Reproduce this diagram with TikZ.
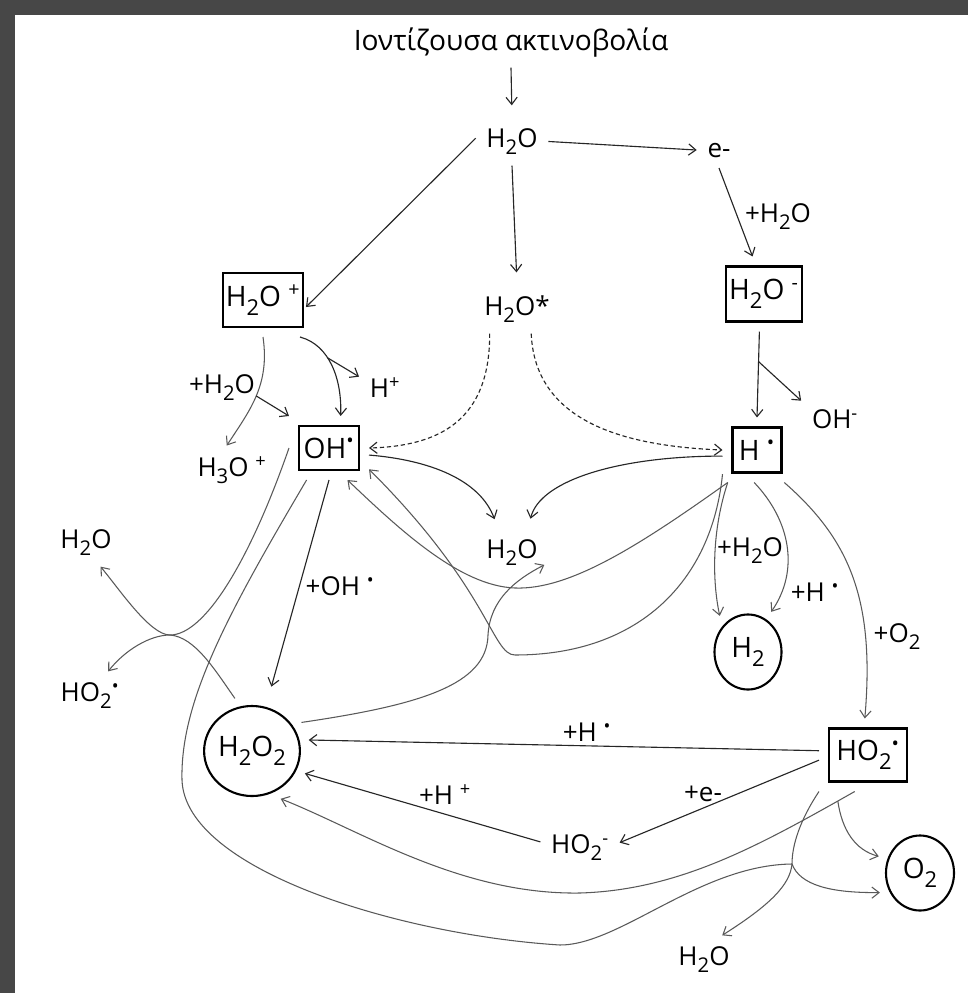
\documentclass[tikz,border=0pt]{standalone}
\usepackage{fontspec}
\setmainfont{Open Sans}
\usetikzlibrary{shapes.geometric,arrows.meta}

\newcommand{\rad}{\textsuperscript{\textbullet}}
\newcommand{\dn}[1]{\raisebox{-0.3em}{\scalebox{0.78}{#1}}}

\begin{document}
\begin{tikzpicture}[x=0.025cm,y=-0.025cm]
	\tikzstyle{every node}=[font=\fontsize{18.5}{20}\selectfont];
	\tikzstyle{spec}=[anchor=base, inner sep=2pt, outer sep=2mm];
	\tikzstyle{box}=[draw, line width=1.5pt, inner sep=2pt, outer sep=2.5mm, font=\fontsize{20}{22}\selectfont];
	\tikzstyle{ring}=[draw, ellipse, line width=1.5pt, inner sep=0pt, outer sep=2.5mm, font=\fontsize{20}{22}\selectfont];
	\tikzstyle{link}=[draw=black!85, line width=0.8pt, -{Straight Barb[length=1.8mm,width=2.8mm]}];
	\tikzstyle{soft}=[draw=black!65, line width=0.75pt];

	%Frame
	\useasboundingbox (0,0) rectangle (968,993);
	\fill[black!72] (0,0) rectangle (968,993);
	\fill[white] (15,15) rectangle (985,1010);

	%Level 1
	\node[spec, font=\fontsize{20}{24}\selectfont] (title) at (511,50) {Ιοντίζουσα ακτινοβολία};
	\node[spec] (wat) at (512,147) {H\dn{2}O};
	\node[spec] (el) at (719,157) {e-};

	%Level 2
	\node[box, minimum width=18.75mm, minimum height=13.5mm] (wpos) at (263,300) {H\dn{2}O \textsuperscript{+}};
	\node[spec] (wstar) at (517,315) {H\dn{2}O*};
	\node[box, minimum width=18.5mm, minimum height=13.75mm] (wneg) at (764,294) {H\dn{2}O \textsuperscript{-}};

	%Level 3
	\node[spec] (hp) at (385,397) {H\textsuperscript{+}};
	\node[spec] (h3o) at (232,476) {H\dn{3}O \textsuperscript{+}};
	\node[box, minimum width=15mm, minimum height=11mm] (oh) at (329,448) {OH\rad};
	\node[box, minimum width=12.25mm, minimum height=11.25mm] (hr) at (757,450) {H \rad};
	\node[spec] (ohm) at (835,428) {OH\textsuperscript{-}};

	%Level 4
	\node[spec, outer sep=1mm] (wmid) at (512,558) {H\dn{2}O};
	\node[spec] (wleft) at (86,548) {H\dn{2}O};
	\node[spec] (ho2l) at (90,701) {HO\dn{2}\rad};
	\node[ring, minimum width=16.75mm, minimum height=18.75mm] (h2) at (748,652) {H\dn{2}};

	%Level 5
	\node[ring, minimum width=19.5mm, minimum height=22.5mm] (h2o2) at (252,751) {H\dn{2}O\dn{2}};
	\node[box, minimum width=19.5mm, minimum height=13.25mm] (ho2) at (868,755) {HO\dn{2}\rad};
	\node[spec] (ho2m) at (580,853) {HO\dn{2}\textsuperscript{-}};
	\node[ring, minimum width=17mm, minimum height=18.75mm] (o2) at (920,873) {O\dn{2}};
	\node[spec] (wbot) at (704,965) {H\dn{2}O};

	%Labels
	\node[spec] (lw1) at (778,222) {+H\dn{2}O};
	\node[spec] (lw2) at (222,393) {+H\dn{2}O};
	\node[spec] (loh) at (340,595) {+OH \rad};
	\node[spec] (lw3) at (750,556) {+H\dn{2}O};
	\node[spec] (lh1) at (815,601) {+H \rad};
	\node[spec] (lo2) at (897,642) {+O\dn{2}};
	\node[spec] (lh2) at (587,741) {+H \rad};
	\node[spec] (le) at (703,801) {+e-};
	\node[spec] (lh3) at (445,804) {+H \textsuperscript{+}};

	%Lines
	\draw[link, shorten >=3mm] (title.south) -- (wat.north);
	\draw[link] (wat.east) -- (el.west);
	\draw[link] (el.south) -- (wneg.107);
	\draw[link, shorten >=-2.5mm] (wat.175) -- (wpos.east);
	\draw[link, shorten >=3mm] (wat.south) -- (wstar.north);

	%Water cation
	\draw[link, soft] (wpos.south) .. controls (270,385) and (250,410) .. (h3o.102) coordinate[pos=.5] (b1);
	\draw[link] (b1) -- (oh.north west);
	\draw[link] (wpos.-45) .. controls (330,345) and (342,380) .. (oh.70) coordinate[pos=.4] (b2);
	\draw[link] (b2) -- (hp.158);

	%Excited water
	\draw[link, densely dashed] (wstar.-138) .. controls (490,420) and (440,446) .. (oh.east);
	\draw[link, densely dashed] (wstar.-60) .. controls (535,420) and (620,446) .. (hr.west);

	%Water anion
	\draw[link] (wneg.-97) -- coordinate[pos=.35] (b3) (hr.north);
	\draw[link] (b3) -- (ohm.152);

	%Recombination
	\draw[link, shorten >=3.5mm] (oh.-10) .. controls (430,460) and (480,480) .. (wmid.122);
	\draw[link, shorten >=3.5mm] (hr.190) .. controls (620,456) and (540,480) .. (wmid.53);
	\draw[link, soft] (hr.215) .. controls (712,580) and (640,655) .. (515,655) .. controls (492,655) and (490,590) .. (oh.-28);
	\draw[link, soft] (hr.228) .. controls (640,545) and (570,590) .. (515,588) .. controls (460,586) and (400,530) .. (oh.-60);
	\draw[link, soft] (h2o2.30) .. controls (420,705) and (487,685) .. (488,635) .. controls (490,600) and (515,580) .. (wmid.-21);

	%Hydrogen
	\draw[link, soft] (hr.228) .. controls (712,530) and (712,580) .. (h2.128);
	\draw[link, soft] (hr.-95) .. controls (790,520) and (800,570) .. (h2.60);
	\draw[link, soft] (hr.-50) .. controls (850,540) and (875,600) .. (ho2.95);

	%Peroxide
	\draw[link, shorten >=3mm] (oh.south) -- (h2o2.73);
	\draw[link] (ho2.175) -- (h2o2.11);
	\draw[link] (ho2.186) -- (ho2m.7);
	\draw[link] (ho2m.172) -- (h2o2.-23);
	\draw[link, soft] (ho2.-110) .. controls (760,845) and (680,890) .. (580,893) coordinate[pos=.06] (b4) .. controls (460,895) and (360,830) .. (h2o2.-59);
	\draw[link, soft] (b4) .. controls (842,830) and (855,850) .. (o2.158);

	%OH + HO2
	\coordinate (m1) at (792,864);
	\draw[soft] (oh.-125) .. controls (230,610) and (180,700) .. (182,780) .. controls (185,870) and (400,935) .. (560,945) .. controls (620,945) and (700,865) .. (m1);
	\draw[soft] (ho2.south west) .. controls (800,820) and (792,845) .. (m1);
	\draw[link, soft] (m1) .. controls (800,885) and (830,893) .. (o2.206);
	\draw[link, soft] (m1) .. controls (790,885) and (770,905) .. (wbot.53);

	%OH + H2O2
	\coordinate (m2) at (170,635);
	\draw[link, soft] (oh.west) .. controls (250,560) and (205,635) .. (m2) .. controls (150,635) and (120,590) .. (wleft.-59);
	\draw[link, soft] (h2o2.108) .. controls (215,670) and (195,637) .. (m2) .. controls (150,635) and (125,650) .. (ho2l.53);

\end{tikzpicture}
\end{document}
